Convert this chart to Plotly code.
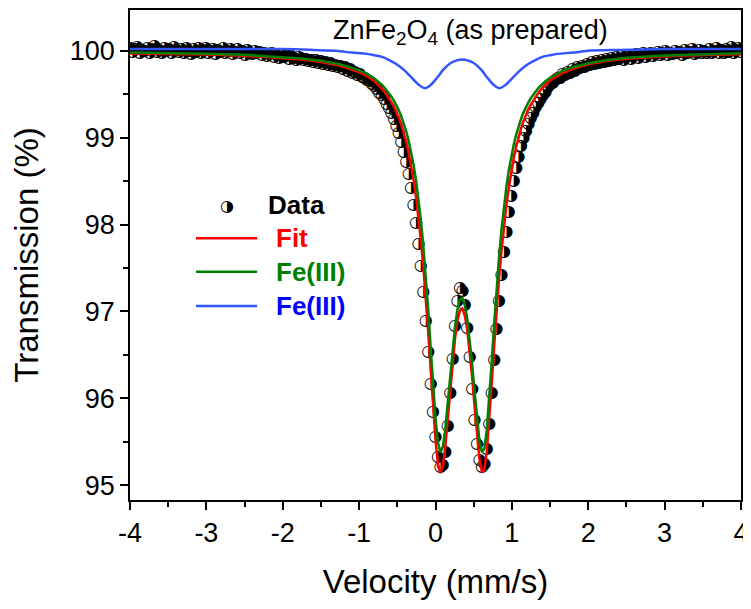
import plotly.graph_objects as go

# ---------------- data ----------------
velocity = [
    -4.000, -3.968, -3.936, -3.904, -3.872, -3.840, -3.808, -3.776, -3.744, -3.712,
    -3.680, -3.648, -3.616, -3.584, -3.552, -3.520, -3.488, -3.456, -3.424, -3.392,
    -3.360, -3.328, -3.296, -3.264, -3.232, -3.200, -3.168, -3.136, -3.104, -3.072,
    -3.040, -3.008, -2.976, -2.944, -2.912, -2.880, -2.848, -2.816, -2.784, -2.752,
    -2.720, -2.688, -2.656, -2.624, -2.592, -2.560, -2.528, -2.496, -2.464, -2.432,
    -2.400, -2.368, -2.336, -2.304, -2.272, -2.240, -2.208, -2.176, -2.144, -2.112,
    -2.080, -2.048, -2.016, -1.984, -1.952, -1.920, -1.888, -1.856, -1.824, -1.792,
    -1.760, -1.728, -1.696, -1.664, -1.632, -1.600, -1.568, -1.536, -1.504, -1.472,
    -1.440, -1.408, -1.376, -1.344, -1.312, -1.280, -1.248, -1.216, -1.184, -1.152,
    -1.120, -1.088, -1.056, -1.024, -0.992, -0.960, -0.928, -0.896, -0.864, -0.832,
    -0.800, -0.768, -0.736, -0.704, -0.672, -0.640, -0.608, -0.576, -0.544, -0.512,
    -0.480, -0.448, -0.416, -0.384, -0.352, -0.320, -0.288, -0.256, -0.224, -0.192,
    -0.160, -0.128, -0.096, -0.064, -0.032, 0.000, 0.032, 0.064, 0.096, 0.128,
    0.160, 0.192, 0.224, 0.256, 0.288, 0.320, 0.352, 0.384, 0.416, 0.448,
    0.480, 0.512, 0.544, 0.576, 0.608, 0.640, 0.672, 0.704, 0.736, 0.768,
    0.800, 0.832, 0.864, 0.896, 0.928, 0.960, 0.992, 1.024, 1.056, 1.088,
    1.120, 1.152, 1.184, 1.216, 1.248, 1.280, 1.312, 1.344, 1.376, 1.408,
    1.440, 1.472, 1.504, 1.536, 1.568, 1.600, 1.632, 1.664, 1.696, 1.728,
    1.760, 1.792, 1.824, 1.856, 1.888, 1.920, 1.952, 1.984, 2.016, 2.048,
    2.080, 2.112, 2.144, 2.176, 2.208, 2.240, 2.272, 2.304, 2.336, 2.368,
    2.400, 2.432, 2.464, 2.496, 2.528, 2.560, 2.592, 2.624, 2.656, 2.688,
    2.720, 2.752, 2.784, 2.816, 2.848, 2.880, 2.912, 2.944, 2.976, 3.008,
    3.040, 3.072, 3.104, 3.136, 3.168, 3.200, 3.232, 3.264, 3.296, 3.328,
    3.360, 3.392, 3.424, 3.456, 3.488, 3.520, 3.552, 3.584, 3.616, 3.648,
    3.680, 3.712, 3.744, 3.776, 3.808, 3.840, 3.872, 3.904, 3.936, 3.968,
    4.000,
]
transmission = [
    100.03, 99.99, 100.02, 100.04, 99.98, 100.01, 100.00, 100.03, 99.97, 100.02,
    100.05, 99.99, 100.01, 99.98, 100.03, 100.00, 100.02, 99.97, 100.04, 100.01,
    99.99, 100.02, 99.98, 100.03, 100.00, 99.96, 100.02, 99.99, 100.03, 99.98,
    100.01, 100.03, 99.97, 100.00, 100.02, 99.96, 100.01, 99.99, 100.03, 99.98,
    100.00, 100.02, 99.96, 99.99, 100.02, 99.97, 100.00, 99.95, 100.01, 99.98,
    99.96, 100.00, 99.97, 99.99, 99.95, 99.97, 99.94, 99.96, 99.98, 99.93,
    99.95, 99.92, 99.96, 99.93, 99.95, 99.91, 99.94, 99.92, 99.90, 99.93,
    99.92, 99.89, 99.91, 99.88, 99.90, 99.87, 99.89, 99.86, 99.88, 99.85,
    99.87, 99.84, 99.86, 99.83, 99.84, 99.81, 99.83, 99.79, 99.81, 99.77,
    99.79, 99.75, 99.76, 99.72, 99.73, 99.70, 99.69, 99.66, 99.65, 99.62,
    99.59, 99.56, 99.52, 99.49, 99.44, 99.39, 99.34, 99.28, 99.21, 99.13,
    99.05, 98.95, 98.84, 98.72, 98.58, 98.42, 98.23, 98.02, 97.78, 97.52,
    97.22, 96.89, 96.53, 96.17, 95.84, 95.55, 95.33, 95.21, 95.23, 95.38,
    95.68, 96.06, 96.45, 96.83, 97.12, 97.27, 97.23, 97.07, 96.81, 96.48,
    96.11, 95.75, 95.47, 95.29, 95.21, 95.25, 95.42, 95.70, 96.06, 96.44,
    96.80, 97.12, 97.42, 97.68, 97.92, 98.14, 98.33, 98.50, 98.65, 98.78,
    98.90, 99.00, 99.08, 99.16, 99.23, 99.29, 99.35, 99.40, 99.45, 99.49,
    99.53, 99.58, 99.62, 99.63, 99.67, 99.69, 99.69, 99.73, 99.72, 99.76,
    99.75, 99.79, 99.77, 99.81, 99.80, 99.83, 99.81, 99.85, 99.84, 99.87,
    99.85, 99.88, 99.86, 99.89, 99.87, 99.91, 99.88, 99.92, 99.90, 99.93,
    99.91, 99.94, 99.90, 99.93, 99.95, 99.91, 99.94, 99.96, 99.92, 99.95,
    99.97, 99.93, 99.96, 99.98, 99.94, 99.96, 99.99, 99.95, 99.97, 100.00,
    99.95, 99.98, 99.96, 100.00, 99.97, 99.99, 99.95, 100.01, 99.97, 99.99,
    100.02, 99.96, 99.98, 100.01, 99.97, 100.00, 99.98, 100.02, 99.97, 100.00,
    100.03, 99.98, 100.01, 99.97, 100.02, 99.99, 100.04, 99.98, 100.01, 100.03,
    99.99,
]

fit_velocity = [
    -4.0, -3.5, -3.0, -2.5, -2.0, -1.75, -1.5, -1.25, -1.0, -0.9,
    -0.800, -0.768, -0.736, -0.704, -0.672, -0.640, -0.608, -0.576, -0.544, -0.512,
    -0.480, -0.448, -0.416, -0.384, -0.352, -0.320, -0.288, -0.256, -0.224, -0.192,
    -0.160, -0.128, -0.096, -0.064, -0.032, 0.000, 0.032, 0.064, 0.096, 0.128,
    0.160, 0.192, 0.224, 0.256, 0.288, 0.320, 0.352, 0.384, 0.416, 0.448,
    0.480, 0.512, 0.544, 0.576, 0.608, 0.640, 0.672, 0.704, 0.736, 0.768,
    0.800, 0.832, 0.864, 0.896, 0.928, 0.960, 0.992, 1.024, 1.056, 1.088,
    1.120, 1.152, 1.184, 1.216, 1.248, 1.280, 1.312, 1.344, 1.376, 1.408,
    1.440, 1.5, 1.65, 1.8, 2.0, 2.25, 2.5, 3.0, 3.5, 4.0,
]
fit_total = [
    99.970, 99.965, 99.957, 99.944, 99.921, 99.901, 99.872, 99.828, 99.755, 99.710,
    99.651, 99.625, 99.597, 99.565, 99.532, 99.495, 99.454, 99.407, 99.355, 99.297,
    99.228, 99.151, 99.063, 98.956, 98.829, 98.684, 98.516, 98.321, 98.093, 97.824,
    97.516, 97.164, 96.771, 96.346, 95.914, 95.523, 95.248, 95.140, 95.217, 95.440,
    95.754, 96.091, 96.419, 96.690, 96.897, 97.013, 97.034, 96.949, 96.787, 96.547,
    96.245, 95.905, 95.574, 95.297, 95.150, 95.176, 95.392, 95.742, 96.166, 96.600,
    97.011, 97.375, 97.697, 97.976, 98.217, 98.427, 98.607, 98.761, 98.894, 99.010,
    99.108, 99.191, 99.263, 99.327, 99.381, 99.429, 99.473, 99.513, 99.548, 99.579,
    99.607, 99.660, 99.739, 99.793, 99.846, 99.885, 99.909, 99.937, 99.953, 99.962,
]
fe3_green = [
    99.980, 99.975, 99.967, 99.954, 99.931, 99.913, 99.887, 99.846, 99.777, 99.735,
    99.681, 99.659, 99.636, 99.610, 99.581, 99.549, 99.513, 99.473, 99.427, 99.375,
    99.315, 99.247, 99.168, 99.076, 98.968, 98.842, 98.693, 98.517, 98.307, 98.056,
    97.761, 97.414, 97.021, 96.596, 96.164, 95.773, 95.493, 95.375, 95.437, 95.645,
    95.944, 96.261, 96.574, 96.830, 97.027, 97.138, 97.154, 97.074, 96.917, 96.687,
    96.395, 96.075, 95.764, 95.507, 95.380, 95.421, 95.642, 95.992, 96.416, 96.850,
    97.261, 97.625, 97.942, 98.209, 98.435, 98.625, 98.785, 98.920, 99.034, 99.132,
    99.216, 99.289, 99.352, 99.407, 99.455, 99.497, 99.535, 99.569, 99.599, 99.626,
    99.650, 99.690, 99.763, 99.813, 99.858, 99.895, 99.919, 99.947, 99.963, 99.972,
]

blue_velocity = [
    -4.0, -3.0, -2.0, -1.6, -1.3, -1.1, -0.9, -0.8, -0.7, -0.6,
    -0.5, -0.4, -0.3, -0.22, -0.14, -0.06, 0.02, 0.1, 0.2, 0.28,
    0.35, 0.42, 0.5, 0.6, 0.68, 0.76, 0.84, 0.92, 1.0, 1.1,
    1.2, 1.3, 1.4, 1.5, 1.6, 1.8, 2.0, 2.4, 3.0, 4.0,
]
fe3_blue = [
    100.02, 100.02, 100.02, 100.01, 100.00, 99.98, 99.965, 99.95, 99.93, 99.89,
    99.84, 99.77, 99.68, 99.61, 99.57, 99.61, 99.69, 99.78, 99.86, 99.89,
    99.90, 99.89, 99.86, 99.78, 99.69, 99.61, 99.57, 99.61, 99.68, 99.77,
    99.84, 99.89, 99.93, 99.95, 99.965, 99.98, 100.00, 100.01, 100.02, 100.02,
]

x_tick_values = [-4, -3, -2, -1, 0, 1, 2, 3, 4]
y_tick_values = [95, 96, 97, 98, 99, 100]

RED = "#FF0000"
GREEN = "#008000"
BLUE_LINE = "#3355FF"
BLUE_TEXT = "#0000FF"
FONT = "Liberation Sans, Arial, sans-serif"

fig = go.Figure()
fig.add_trace(go.Scatter(
    x=velocity, y=transmission, mode="text",
    text=["\u25D1"] * len(velocity),
    textposition="middle center",
    textfont=dict(family="DejaVu Sans", size=16, color="black"),
    hoverinfo="skip", showlegend=False,
))
fig.add_trace(go.Scatter(x=fit_velocity, y=fit_total, mode="lines",
                         line=dict(color=RED, width=2.5), showlegend=False))
fig.add_trace(go.Scatter(x=fit_velocity, y=fe3_green, mode="lines",
                         line=dict(color=GREEN, width=2.5), showlegend=False))
fig.add_trace(go.Scatter(x=blue_velocity, y=fe3_blue, mode="lines",
                         line=dict(color=BLUE_LINE, width=2.5, shape="spline", smoothing=0.8),
                         showlegend=False))

axis_common = dict(
    showgrid=False, zeroline=False, showline=True, linecolor="black", linewidth=1.8,
    mirror=True, ticks="outside", ticklen=8, tickwidth=1.8, tickcolor="black",
    tickfont=dict(family=FONT, size=27, color="black"),
)
fig.update_xaxes(
    range=[-4, 4], tickvals=x_tick_values, ticktext=[str(v) for v in x_tick_values],
    minor=dict(dtick=0.5, tick0=0, ticklen=5, tickwidth=1.8, tickcolor="black", ticks="outside"),
    title=dict(text="Velocity (mm/s)", font=dict(family=FONT, size=33, color="black"), standoff=23),
    **axis_common,
)
fig.update_yaxes(
    range=[94.83, 100.47], tickvals=y_tick_values, ticktext=[str(v) for v in y_tick_values],
    minor=dict(dtick=0.5, tick0=95, ticklen=5, tickwidth=1.8, tickcolor="black", ticks="outside"),
    title=dict(text="Transmission (%)", font=dict(family=FONT, size=33, color="black"), standoff=24),
    **axis_common,
)

annotations = [
    dict(text="ZnFe<sub>2</sub>O<sub>4</sub> (as prepared)", x=0.558, y=0.955,
         xref="paper", yref="paper", showarrow=False, xanchor="center", yanchor="middle",
         font=dict(family=FONT, size=27, color="black")),
    dict(text="\u25D1", x=0.158, y=0.602, xref="paper", yref="paper", showarrow=False,
         xanchor="center", yanchor="middle", font=dict(family="DejaVu Sans", size=16, color="black")),
    dict(text="<b>Data</b>", x=0.2226, y=0.602, xref="paper", yref="paper", showarrow=False,
         xanchor="left", yanchor="middle", font=dict(family=FONT, size=26, color="black")),
    dict(text="<b>Fit</b>", x=0.2357, y=0.534, xref="paper", yref="paper", showarrow=False,
         xanchor="left", yanchor="middle", font=dict(family=FONT, size=26, color=RED)),
    dict(text="<b>Fe(III)</b>", x=0.2357, y=0.466, xref="paper", yref="paper", showarrow=False,
         xanchor="left", yanchor="middle", font=dict(family=FONT, size=26, color=GREEN)),
    dict(text="<b>Fe(III)</b>", x=0.2357, y=0.396, xref="paper", yref="paper", showarrow=False,
         xanchor="left", yanchor="middle", font=dict(family=FONT, size=26, color=BLUE_TEXT)),
]
shapes = [
    dict(type="line", xref="paper", yref="paper", x0=0.108, x1=0.208, y0=0.534, y1=0.534,
         line=dict(color=RED, width=2.5)),
    dict(type="line", xref="paper", yref="paper", x0=0.108, x1=0.208, y0=0.466, y1=0.466,
         line=dict(color=GREEN, width=2.5)),
    dict(type="line", xref="paper", yref="paper", x0=0.108, x1=0.208, y0=0.396, y1=0.396,
         line=dict(color=BLUE_LINE, width=2.5)),
]

# the page adds an 8 px body margin, so the figure is made 8 px smaller
fig.update_layout(
    width=743, height=601,
    margin=dict(l=122, r=10, t=2, b=109, autoexpand=False),
    paper_bgcolor="white", plot_bgcolor="white",
    font=dict(family=FONT, color="black"),
    annotations=annotations, shapes=shapes,
    showlegend=False,
)

fig.write_html("out.html")
